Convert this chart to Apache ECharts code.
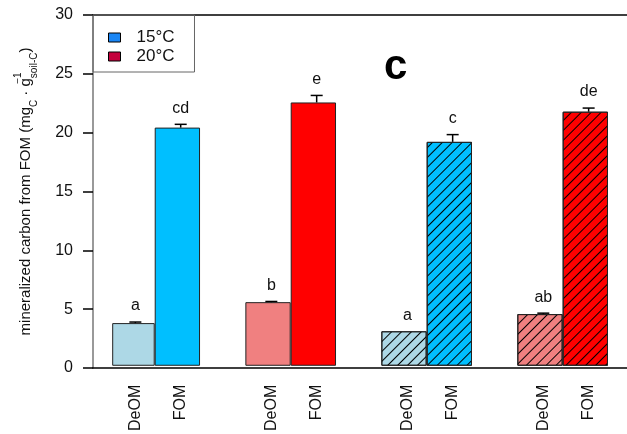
<!DOCTYPE html>
<html><head><meta charset="utf-8">
<script src="https://cdn.jsdelivr.net/npm/echarts@6/dist/echarts.min.js"></script>
<style>html,body{margin:0;padding:0;background:#fff}#c{width:627px;height:434px}</style>
</head><body><div id="c"></div>
<script>
// ---- data ----
const barLabels = ['DeOM','FOM','DeOM','FOM','DeOM','FOM','DeOM','FOM'];
const meanValues = [3.65, 20.37, 5.44, 22.52, 2.95, 19.15, 4.42, 21.73];
const errorValues = [0.09, 0.28, 0.06, 0.6, 0, 0.62, 0.08, 0.31];
const letters = ['a','cd','b','e','a','c','ab','de'];
const legendNames = ['15°C','20°C'];
const yMin = 0, yMax = 30, yStep = 5;
const panelLetter = 'c';

// ---- styles ----
const barColors = ['#ADD8E6','#00BFFF','#F08080','#FF0000','#ADD8E6','#00BFFF','#F08080','#FF0000'];
const hatched = [false,false,false,false,true,true,true,true];
const legendColors = ['#1a86f5','#c4003c'];
const FF = '"Liberation Sans", Arial, sans-serif';

// slots: a blank slot between each pair of bars
const slotOf = i => i + Math.floor(i / 2);
const nSlots = slotOf(barLabels.length - 1) + 1;
const categories = new Array(nSlots).fill('');
barLabels.forEach((l, i) => { categories[slotOf(i)] = l; });

const hatchDecal = {
  symbol: 'rect', symbolSize: 1, dashArrayX: [1, 0], dashArrayY: [1, 6],
  rotation: -Math.PI / 4, color: '#000', backgroundColor: null
};

const barData = new Array(nSlots).fill('-');
meanValues.forEach((v, i) => {
  const item = { value: v, itemStyle: { color: barColors[i], borderColor: '#222', borderWidth: 1 } };
  if (hatched[i]) item.itemStyle.decal = hatchDecal;
  barData[slotOf(i)] = item;
});
const errData = meanValues.map((v, i) => [slotOf(i), v, errorValues[i]]);

const chart = echarts.init(document.getElementById('c'), null, { renderer: 'canvas' });
chart.setOption({
  animation: false,
  backgroundColor: '#fff',
  grid: [
    { left: 93, right: 0, top: 15, bottom: 66 },
    { left: 112.7, right: 15.7, top: 15, bottom: 66 }
  ],
  legend: {
    data: legendNames,
    left: 93, top: 15,
    orient: 'vertical',
    padding: [14, 20, 7, 15],
    itemGap: 2, itemWidth: 12, itemHeight: 9,
    icon: 'rect',
    borderColor: '#666', borderWidth: 1,
    itemStyle: { borderColor: '#000', borderWidth: 1 },
    textStyle: { fontSize: 17, fontFamily: FF, color: '#111', lineHeight: 17, padding: [0, 0, 0, 11] }
  },
  xAxis: [
    { gridIndex: 0, type: 'value', min: 0, max: 1, position: 'bottom',
      axisLine: { show: true, lineStyle: { color: '#000', width: 1.5 } },
      axisTick: { show: false }, axisLabel: { show: false }, splitLine: { show: false } },
    { gridIndex: 0, type: 'value', min: 0, max: 1, position: 'top',
      axisLine: { show: true, lineStyle: { color: '#000', width: 1.5 } },
      axisTick: { show: false }, axisLabel: { show: false }, splitLine: { show: false } },
    { gridIndex: 1, type: 'category', data: categories,
      axisLine: { show: false }, axisTick: { show: false },
      axisLabel: { interval: 0, rotate: 90, margin: 19, fontSize: 16, fontFamily: FF, color: '#111' } }
  ],
  yAxis: [
    { gridIndex: 0, type: 'value', min: yMin, max: yMax, interval: yStep,
      axisLine: { show: true, lineStyle: { color: '#777', width: 1.5 } },
      axisTick: { show: true, length: 10, lineStyle: { color: '#000', width: 1.5 } },
      axisLabel: { fontSize: 16, fontFamily: FF, color: '#111', margin: 20 },
      splitLine: { show: false },
      name: '{m|mineralized carbon from FOM (mg}{sb|C}{m| · g}{sp|−1}{sb|soil-C}{m|)}',
      nameLocation: 'middle', nameGap: 54,
      nameTextStyle: {
        fontFamily: FF, color: '#111',
        rich: {
          m: { fontSize: 15, lineHeight: 26, fontFamily: FF, color: '#111' },
          sb: { fontSize: 10, lineHeight: 8, verticalAlign: 'bottom', fontFamily: FF, color: '#111' },
          sp: { fontSize: 10, lineHeight: 12, verticalAlign: 'top', width: 0.01, fontFamily: FF, color: '#111' }
        }
      } },
    { gridIndex: 1, type: 'value', min: yMin, max: yMax, interval: yStep, show: false }
  ],
  series: [
    { type: 'bar', xAxisIndex: 2, yAxisIndex: 1, barWidth: '100%', barCategoryGap: '0%', data: barData, z: 2 },
    { type: 'custom', xAxisIndex: 2, yAxisIndex: 1, data: errData, z: 5,
      renderItem: function (params, api) {
        const x = api.value(0), m = api.value(1), e = api.value(2);
        const base = api.coord([x, m]);
        const top = api.coord([x, m + e]);
        const children = [];
        if (e > 0) {
          children.push({ type: 'line', shape: { x1: base[0], y1: base[1], x2: top[0], y2: top[1] }, style: { stroke: '#000', lineWidth: 1.5 } });
          children.push({ type: 'line', shape: { x1: top[0] - 6, y1: top[1], x2: top[0] + 6, y2: top[1] }, style: { stroke: '#000', lineWidth: 1.5 } });
        }
        children.push({ type: 'text', style: { text: letters[params.dataIndex], x: top[0], y: top[1] - 8, align: 'center', verticalAlign: 'bottom', fontSize: 16, fontFamily: FF, fill: '#111' } });
        return { type: 'group', children };
      } },
    { type: 'bar', name: legendNames[0], xAxisIndex: 2, yAxisIndex: 1, data: [], itemStyle: { color: legendColors[0] } },
    { type: 'bar', name: legendNames[1], xAxisIndex: 2, yAxisIndex: 1, data: [], itemStyle: { color: legendColors[1] } }
  ],
  graphic: [
    { type: 'text', left: 384, top: 46, style: { text: panelLetter, fontSize: 42, fontWeight: 'bold', fontFamily: FF, fill: '#000' } }
  ]
});
</script></body></html>
